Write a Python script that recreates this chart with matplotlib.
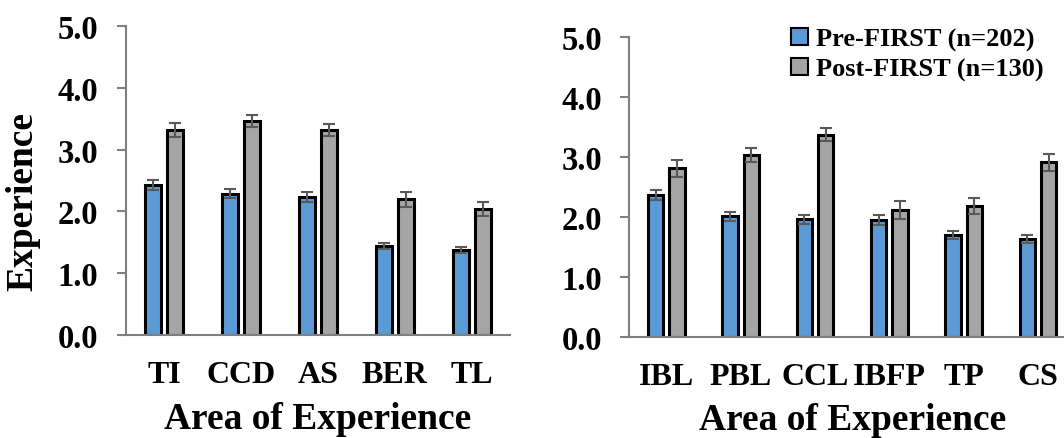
import matplotlib
matplotlib.use('Agg')
import matplotlib.pyplot as plt
import numpy as np

plt.rcParams['font.family'] = ['Liberation Serif', 'DejaVu Serif']
plt.rcParams['font.weight'] = 'bold'
plt.rcParams['axes.labelweight'] = 'bold'

# left panel
cats_left = ['TI', 'CCD', 'AS', 'BER', 'TL']
pre_left = [2.43, 2.29, 2.24, 1.44, 1.38]
pre_left_err = [0.08, 0.08, 0.08, 0.05, 0.05]
post_left = [3.32, 3.46, 3.32, 2.20, 2.04]
post_left_err = [0.11, 0.10, 0.10, 0.12, 0.11]

# right panel
cats_right = ['IBL', 'PBL', 'CCL', 'IBFP', 'TP', 'CS']
pre_right = [2.37, 2.01, 1.96, 1.95, 1.70, 1.63]
pre_right_err = [0.08, 0.075, 0.07, 0.08, 0.07, 0.07]
post_right = [2.81, 3.03, 3.37, 2.12, 2.18, 2.91]
post_right_err = [0.14, 0.12, 0.11, 0.15, 0.13, 0.14]

labels = ['Pre-FIRST (n=202)', 'Post-FIRST (n=130)']
blue = '#5b9bd5'
grey = '#a5a5a5'
axis_grey = '#7f7f7f'
err_grey = '#595959'

fig = plt.figure(figsize=(10.64, 4.39), dpi=100)
ax1 = fig.add_axes([0.118, 0.2346, 0.3614, 0.7036])
ax2 = fig.add_axes([0.5914, 0.2308, 0.419, 0.682])

off = 0.143
w = 0.205
ekw = dict(ecolor=err_grey, elinewidth=1.5, capsize=4.5, capthick=1.5)


def draw(ax, cats, pre, pre_err, post, post_err):
    x = np.arange(len(cats))
    b1 = ax.bar(x - off, pre, w, yerr=pre_err, color=blue, edgecolor='black',
                linewidth=2.2, error_kw=ekw, label=labels[0], zorder=2)
    b2 = ax.bar(x + off, post, w, yerr=post_err, color=grey, edgecolor='black',
                linewidth=2.2, error_kw=ekw, label=labels[1], zorder=2)
    ax.set_xlim(-0.5, len(cats) - 0.5)
    ax.set_ylim(0, 5)
    ax.set_yticks(np.arange(0, 5.1, 1))
    ax.set_yticklabels(['%.1f' % v for v in np.arange(0, 5.1, 1)])
    ax.set_xticks(x)
    ax.set_xticklabels(cats)
    for s in ['top', 'right']:
        ax.spines[s].set_visible(False)
    for s in ['left', 'bottom']:
        ax.spines[s].set_color(axis_grey)
        ax.spines[s].set_linewidth(1.5)
    ax.tick_params(axis='y', length=6.5, width=1.5, color=axis_grey,
                   pad=13, labelsize=23.5)
    ax.tick_params(axis='x', length=0, pad=18, labelsize=23)
    ax.set_xlabel('Area of Experience', fontsize=27, fontweight='bold', labelpad=8.5)
    return b1, b2


draw(ax1, cats_left, pre_left, pre_left_err, post_left, post_left_err)
b1, b2 = draw(ax2, cats_right, pre_right, pre_right_err, post_right, post_right_err)

ax1.set_ylabel('Experience', fontsize=27, fontweight='bold')
ax1.yaxis.set_label_coords(-0.222, 0.437)

leg = fig.legend(handles=[b1, b2], labels=labels, loc='upper left',
                 bbox_to_anchor=(0.7434, 0.935), frameon=False, fontsize=19,
                 handlelength=0.65, handleheight=0.65, handletextpad=0.3,
                 borderpad=0, borderaxespad=0, labelspacing=0.25)
for h in leg.legend_handles:
    h.set_linewidth(1.5)

fig.savefig('out.png', dpi=100)
